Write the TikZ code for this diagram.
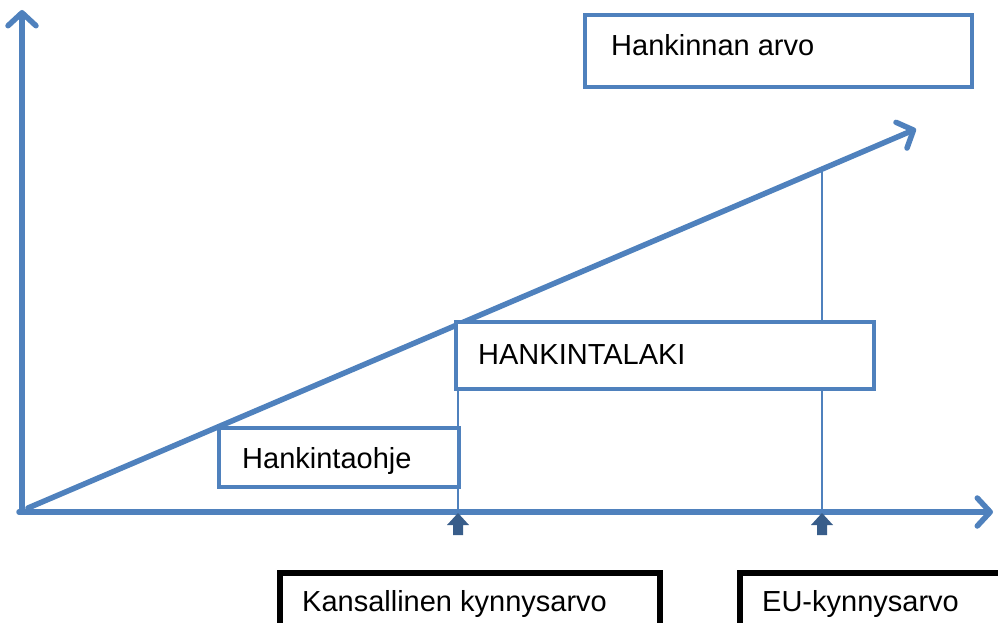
\documentclass[tikz,border=0pt]{standalone}
\usepackage{fontspec}
\setmainfont{Liberation Sans}
\usetikzlibrary{arrows.meta}
\definecolor{lineblue}{HTML}{4F81BD}
\definecolor{darkblue}{HTML}{385D8A}
\tikzset{
  axis/.style={draw=lineblue, line width=5.5pt, line cap=round, -{Straight Barb[length=13pt, width=28pt, line width=5.5pt, line cap=round, round]}},
  bluebox/.style={draw=lineblue, line width=4.5pt, fill=white},
  blackbox/.style={draw=black, line width=5.5pt, fill=white},
  thin/.style={draw=lineblue, line width=1.3pt},
  lbl/.style={anchor=base west, inner sep=0pt, font=\fontsize{29}{31}\selectfont},
  upblock/.style={fill=darkblue, draw=none}
}
\begin{document}
\begin{tikzpicture}[x=1pt,y=-1pt]
\useasboundingbox (0,0) rectangle (998,623);
\clip (0,0) rectangle (998,623);
% coordinates
\coordinate (O) at (22,512);
\coordinate (Ytip) at (22,10);
\coordinate (Xtip) at (993,512);
\coordinate (Dstart) at (28,508);
\coordinate (Dtip) at (916,129);
\coordinate (K1) at (458,512);
\coordinate (K1top) at (458,389);
\coordinate (K2) at (822,512);
\coordinate (K2top) at (822,169);
% thin verticals
\draw[thin] (K1top) -- (K1);
\draw[thin] (K2top) -- (K2);
% axes
\draw[axis] (O) -- (Ytip);
\draw[axis] (19,512) -- (Xtip);
\draw[axis] (Dstart) -- (Dtip);
% blue boxes
\draw[bluebox] (585,15) rectangle (972,87);
\node[lbl] (arvo) at (611,56) {Hankinnan arvo};
\draw[bluebox] (456,322) rectangle (874,389);
\node[lbl] (laki) at (478,364) {HANKINTALAKI};
\draw[bluebox] (219,428) rectangle (459,487);
\node[lbl] (ohje) at (242,468) {Hankintaohje};
% small block arrows
\foreach \xx in {458,822}{
  \fill[upblock] (\xx-5,535) -- (\xx-5,525) -- (\xx-11,525) -- (\xx,513) -- (\xx+11,525) -- (\xx+5,525) -- (\xx+5,535) -- cycle;
}
% black boxes
\draw[blackbox] (280,573) rectangle (660,640);
\node[lbl] (kans) at (302,611) {Kansallinen kynnysarvo};
\draw[blackbox] (740,573) rectangle (1010,640);
\node[lbl] (eu) at (762,611) {EU-kynnysarvo};
\end{tikzpicture}
\end{document}
